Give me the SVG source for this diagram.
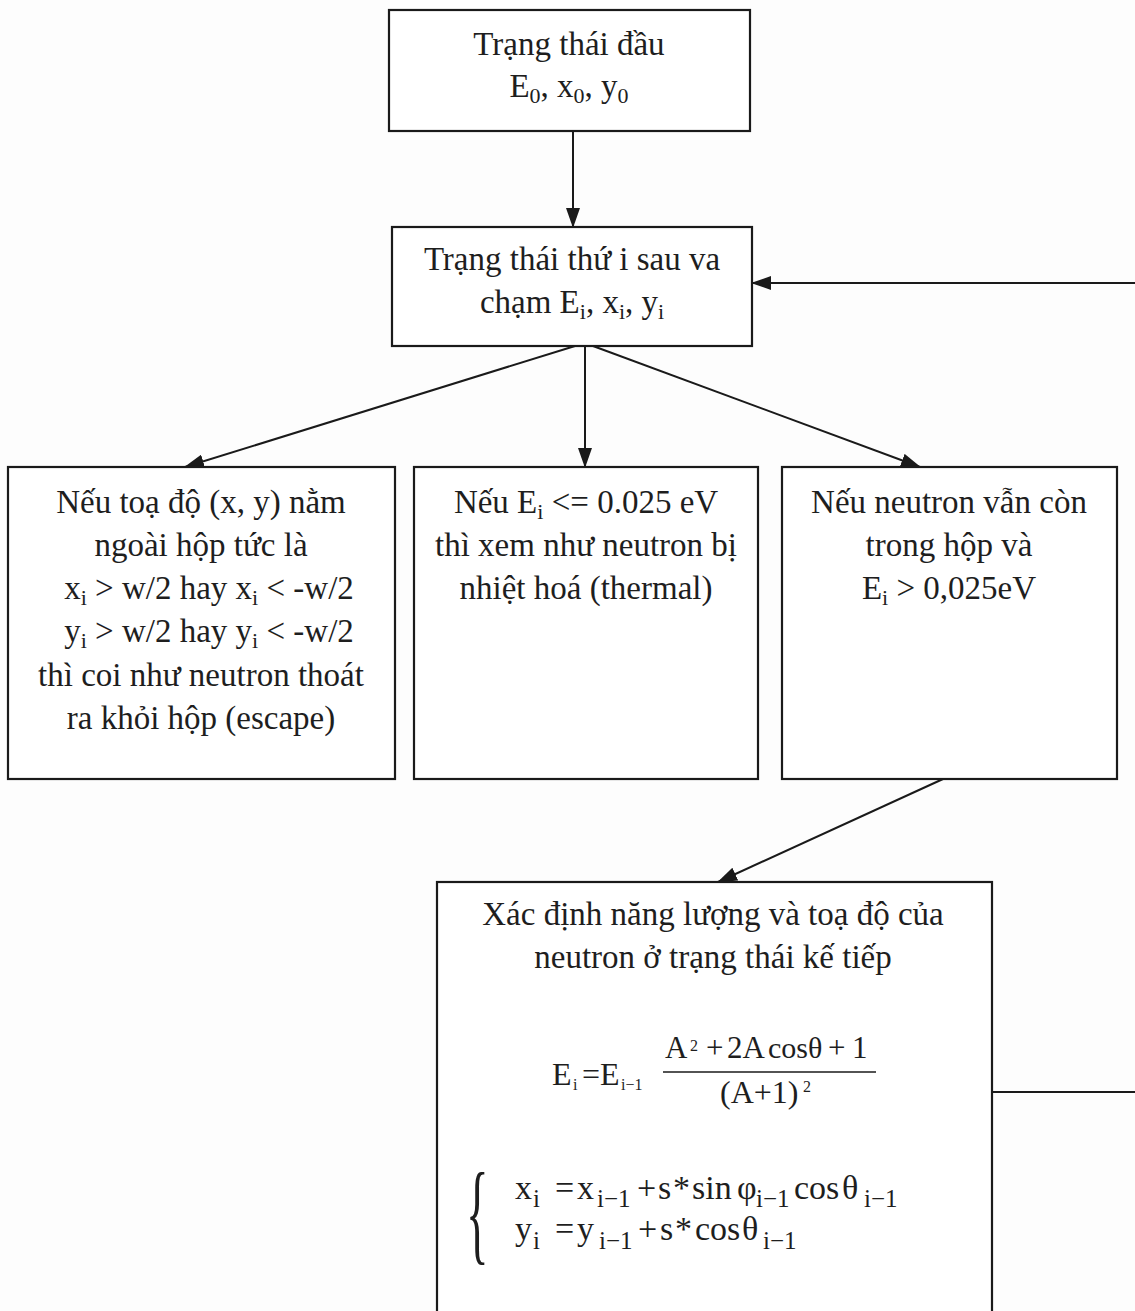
<svg xmlns="http://www.w3.org/2000/svg" width="1135" height="1311" viewBox="0 0 1135 1311">
<defs>
<style>
.box{fill:#fff;stroke:#1a1a1a;stroke-width:2.2}
.t{font-family:"Liberation Serif","DejaVu Serif",serif;font-size:33px;fill:#1e1e1e}
.c{text-anchor:middle}
.sub{font-size:22px}
.m{font-family:"Liberation Serif","DejaVu Serif",serif;font-size:34px;fill:#1e1e1e}
.ms{font-family:"Liberation Serif","DejaVu Serif",serif;font-size:25px;fill:#1e1e1e}
.mss{font-family:"Liberation Serif","DejaVu Serif",serif;font-size:16px;fill:#1e1e1e}
.ln{stroke:#1a1a1a;stroke-width:2;fill:none}
</style>
<marker id="ah" viewBox="0 0 20 14" refX="19" refY="7" markerWidth="20" markerHeight="14" markerUnits="userSpaceOnUse" orient="auto">
<path d="M0,0 L20,7 L0,14 z" fill="#1a1a1a"/>
</marker>
</defs>
<rect width="1135" height="1311" fill="#fdfdfd"/>

<g id="connectors">
<line class="ln" x1="573" y1="131" x2="573" y2="227" marker-end="url(#ah)"/>
<line class="ln" x1="575" y1="346" x2="185" y2="467" marker-end="url(#ah)"/>
<line class="ln" x1="585" y1="346" x2="585" y2="467" marker-end="url(#ah)"/>
<line class="ln" x1="593" y1="346" x2="920" y2="467" marker-end="url(#ah)"/>
<line class="ln" x1="943" y1="779" x2="718" y2="882" marker-end="url(#ah)"/>
<line class="ln" x1="1135" y1="283" x2="752" y2="283" marker-end="url(#ah)"/>
<line class="ln" x1="975" y1="1092" x2="1135" y2="1092"/>
</g>

<g id="n-start">
<rect class="box" x="389" y="10" width="361" height="121"/>
<text class="t c" x="569" y="55">Trạng thái đầu</text>
<text class="t c" x="569" y="97">E<tspan class="sub" dy="6">0</tspan><tspan dy="-6">, x</tspan><tspan class="sub" dy="6">0</tspan><tspan dy="-6">, y</tspan><tspan class="sub" dy="6">0</tspan></text>
</g>

<g id="n-state">
<rect class="box" x="392" y="227" width="360" height="119"/>
<text class="t c" x="572" y="270">Trạng thái thứ i sau va</text>
<text class="t c" x="572" y="313">chạm E<tspan class="sub" dy="6">i</tspan><tspan dy="-6">, x</tspan><tspan class="sub" dy="6">i</tspan><tspan dy="-6">, y</tspan><tspan class="sub" dy="6">i</tspan></text>
</g>

<g id="n-escape">
<rect class="box" x="8" y="467" width="387" height="312"/>
<text class="t c" x="201" y="513">Nếu toạ độ (x, y) nằm</text>
<text class="t c" x="201" y="556">ngoài hộp tức là</text>
<text class="t c" x="209" y="599">x<tspan class="sub" dy="6">i</tspan><tspan dy="-6"> &gt; w/2 hay x</tspan><tspan class="sub" dy="6">i</tspan><tspan dy="-6"> &lt; -w/2</tspan></text>
<text class="t c" x="209" y="642">y<tspan class="sub" dy="6">i</tspan><tspan dy="-6"> &gt; w/2 hay y</tspan><tspan class="sub" dy="6">i</tspan><tspan dy="-6"> &lt; -w/2</tspan></text>
<text class="t c" x="201" y="686">thì coi như neutron thoát</text>
<text class="t c" x="201" y="729">ra khỏi hộp (escape)</text>
</g>

<g id="n-thermal">
<rect class="box" x="414" y="467" width="344" height="312"/>
<text class="t c" x="586" y="513">Nếu E<tspan class="sub" dy="6">i</tspan><tspan dy="-6"> &lt;= 0.025 eV</tspan></text>
<text class="t c" x="586" y="556">thì xem như neutron bị</text>
<text class="t c" x="586" y="599">nhiệt hoá (thermal)</text>
</g>

<g id="n-inside">
<rect class="box" x="782" y="467" width="335" height="312"/>
<text class="t c" x="949" y="513">Nếu neutron vẫn còn</text>
<text class="t c" x="949" y="556">trong hộp và</text>
<text class="t c" x="949" y="599">E<tspan class="sub" dy="6">i</tspan><tspan dy="-6"> &gt; 0,025eV</tspan></text>
</g>

<g id="n-next">
<rect class="box" x="437" y="882" width="555" height="440"/>
<text class="t c" x="713" y="925">Xác định năng lượng và toạ độ của</text>
<text class="t c" x="713" y="968">neutron  ở trạng thái kế tiếp</text>

<text class="m" x="552" y="1085" style="font-size:32px">E</text>
<text class="mss" x="573" y="1090">i</text>
<text class="m" x="582" y="1085" style="font-size:32px">=</text>
<text class="m" x="600" y="1085" style="font-size:32px">E</text>
<text class="mss" x="621" y="1090">i−1</text>
<text class="m" x="665" y="1058" style="font-size:31px">A</text>
<text class="mss" x="690" y="1051">2</text>
<text class="m" x="706" y="1058" style="font-size:31px">+</text>
<text class="m" x="727" y="1058" style="font-size:31px">2A</text>
<text class="m" x="768" y="1058" style="font-size:30px">cos</text>
<text class="m" x="808" y="1058" style="font-size:30px">θ</text>
<text class="m" x="828" y="1058" style="font-size:31px">+</text>
<text class="m" x="852" y="1058" style="font-size:31px">1</text>
<line x1="663" y1="1072" x2="876" y2="1072" stroke="#1a1a1a" stroke-width="1.6"/>
<text class="m" x="720" y="1103" style="font-size:32px">(A+1)</text>
<text class="mss" x="803" y="1092">2</text>

<text class="m" x="0" y="0" style="font-size:112px" transform="translate(466,1250) scale(0.42,1)">{</text>

<text class="m" x="515" y="1199">x</text>
<text class="ms" x="533" y="1207">i</text>
<text class="m" x="555" y="1199">=</text>
<text class="m" x="577" y="1199">x</text>
<text class="ms" x="597" y="1207">i−1</text>
<text class="m" x="637" y="1199">+</text>
<text class="m" x="658" y="1199">s</text>
<text class="m" x="673" y="1199">*</text>
<text class="m" x="692" y="1199">sin</text>
<text class="m" x="737" y="1199">φ</text>
<text class="ms" x="756" y="1207">i−1</text>
<text class="m" x="794" y="1199">cos</text>
<text class="m" x="842" y="1199">θ</text>
<text class="ms" x="864" y="1207">i−1</text>

<text class="m" x="515" y="1240">y</text>
<text class="ms" x="533" y="1249">i</text>
<text class="m" x="555" y="1240">=</text>
<text class="m" x="577" y="1240">y</text>
<text class="ms" x="599" y="1249">i−1</text>
<text class="m" x="638" y="1240">+</text>
<text class="m" x="660" y="1240">s</text>
<text class="m" x="675" y="1240">*</text>
<text class="m" x="695" y="1240">cos</text>
<text class="m" x="742" y="1240">θ</text>
<text class="ms" x="763" y="1249">i−1</text>
</g>
</svg>
